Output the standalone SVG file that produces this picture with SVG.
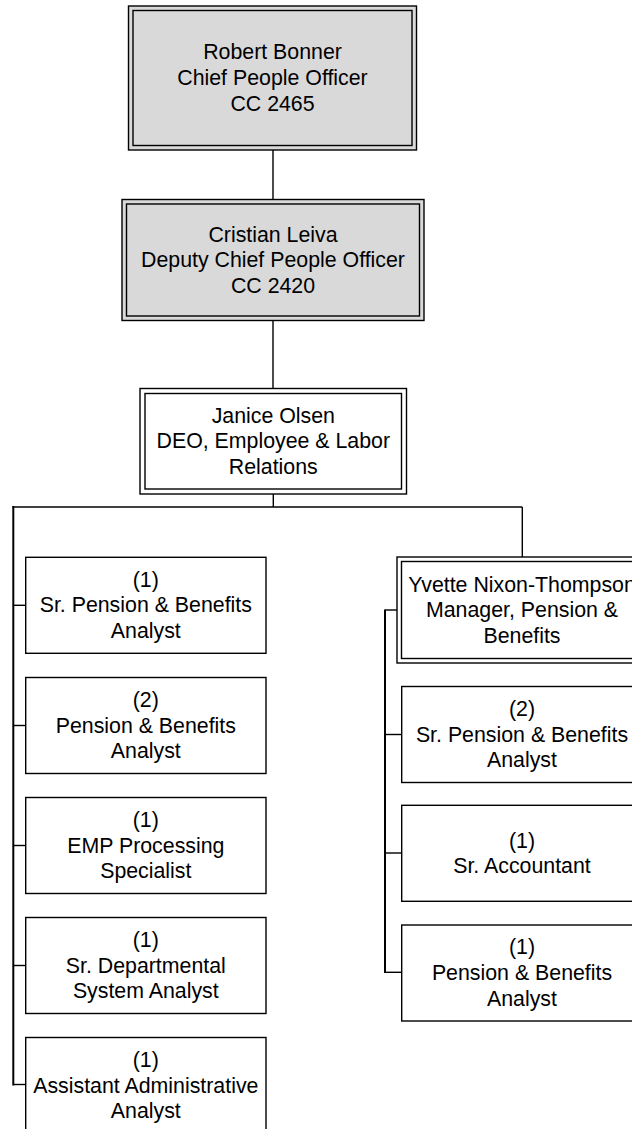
<svg xmlns="http://www.w3.org/2000/svg" width="632" height="1129" viewBox="0 0 632 1129">
<style>
.bg{fill:#ffffff}
.box{fill:#ffffff;stroke:#000;stroke-width:1.4}
.gray{fill:#d9d9d9;stroke:#000;stroke-width:1.4}
.ln{fill:none;stroke:#000;stroke-width:1.4}
.tr{fill:none;stroke:#000;stroke-width:2}
text{font-family:"Liberation Sans",Arial,sans-serif;font-size:21.33px;fill:#000;text-anchor:middle}
</style>
<rect class="bg" x="0" y="0" width="632" height="1129"/>
<g id="connectors">
<line class="ln" x1="273" y1="150" x2="273" y2="199.5"/>
<line class="ln" x1="273" y1="320.5" x2="273" y2="388.5"/>
<line class="ln" x1="273.3" y1="494" x2="273.3" y2="507"/>
<line class="ln" x1="12.5" y1="507" x2="522.3" y2="507"/>
<line class="ln" x1="522.3" y1="507" x2="522.3" y2="557"/>
<line class="tr" x1="13.3" y1="506" x2="13.3" y2="1085.5"/>
<line class="ln" x1="13.3" y1="605.3" x2="25.7" y2="605.3"/>
<line class="ln" x1="13.3" y1="725.5" x2="25.7" y2="725.5"/>
<line class="ln" x1="13.3" y1="845.5" x2="25.7" y2="845.5"/>
<line class="ln" x1="13.3" y1="965.5" x2="25.7" y2="965.5"/>
<line class="ln" x1="13.3" y1="1084.5" x2="25.7" y2="1084.5"/>
<line class="tr" x1="385" y1="609.5" x2="385" y2="973"/>
<line class="ln" x1="385" y1="610" x2="397" y2="610"/>
<line class="ln" x1="385" y1="734.5" x2="401.7" y2="734.5"/>
<line class="ln" x1="385" y1="853" x2="401.7" y2="853"/>
<line class="ln" x1="385" y1="972.3" x2="401.7" y2="972.3"/>
</g>
<g id="robert-bonner">
<rect class="gray" x="128.5" y="6" width="288" height="144"/>
<rect class="gray" x="133" y="10.5" width="279" height="135"/>
<text x="272.5" y="59.4">Robert Bonner</text>
<text x="272.5" y="85">Chief People Officer</text>
<text x="272.5" y="110.6">CC 2465</text>
</g>
<g id="cristian-leiva">
<rect class="gray" x="122" y="199.5" width="302" height="121"/>
<rect class="gray" x="126.5" y="204" width="293" height="112"/>
<text x="273" y="241.5">Cristian Leiva</text>
<text x="273" y="267.1">Deputy Chief People Officer</text>
<text x="273" y="292.7">CC 2420</text>
</g>
<g id="janice-olsen">
<rect class="box" x="140" y="388.5" width="266.5" height="105.5"/>
<rect class="box" x="145" y="393.5" width="256.5" height="95.5"/>
<text x="273.3" y="422.8">Janice Olsen</text>
<text x="273.3" y="448.4">DEO, Employee &amp; Labor</text>
<text x="273.3" y="474">Relations</text>
</g>
<g id="left-1">
<rect class="box" x="25.7" y="557.3" width="240.3" height="96"/>
<text x="145.8" y="586.7">(1)</text>
<text x="145.8" y="612.3">Sr. Pension &amp; Benefits</text>
<text x="145.8" y="637.9">Analyst</text>
</g>
<g id="left-2">
<rect class="box" x="25.7" y="677.5" width="240.3" height="96"/>
<text x="145.8" y="706.9">(2)</text>
<text x="145.8" y="732.5">Pension &amp; Benefits</text>
<text x="145.8" y="758.1">Analyst</text>
</g>
<g id="left-3">
<rect class="box" x="25.7" y="797.5" width="240.3" height="96"/>
<text x="145.8" y="826.9">(1)</text>
<text x="145.8" y="852.5">EMP Processing</text>
<text x="145.8" y="878.1">Specialist</text>
</g>
<g id="left-4">
<rect class="box" x="25.7" y="917.5" width="240.3" height="96"/>
<text x="145.8" y="946.9">(1)</text>
<text x="145.8" y="972.5">Sr. Departmental</text>
<text x="145.8" y="998.1">System Analyst</text>
</g>
<g id="left-5">
<rect class="box" x="25.7" y="1037.5" width="240.3" height="96"/>
<text x="145.8" y="1066.9">(1)</text>
<text x="145.8" y="1092.5">Assistant Administrative</text>
<text x="145.8" y="1118.1">Analyst</text>
</g>
<g id="yvette-nixon-thompson">
<rect class="box" x="397" y="557" width="250" height="106"/>
<rect class="box" x="401.5" y="561.5" width="241" height="97"/>
<text x="522" y="591.6">Yvette Nixon-Thompson</text>
<text x="522" y="617.2">Manager, Pension &amp;</text>
<text x="522" y="642.8">Benefits</text>
</g>
<g id="right-1">
<rect class="box" x="401.7" y="686.5" width="240.6" height="96"/>
<text x="522" y="715.9">(2)</text>
<text x="522" y="741.5">Sr. Pension &amp; Benefits</text>
<text x="522" y="767.1">Analyst</text>
</g>
<g id="right-2">
<rect class="box" x="401.7" y="805.3" width="240.6" height="96"/>
<text x="522" y="847.5">(1)</text>
<text x="522" y="873.1">Sr. Accountant</text>
</g>
<g id="right-3">
<rect class="box" x="401.7" y="925" width="240.6" height="96"/>
<text x="522" y="954.4">(1)</text>
<text x="522" y="980">Pension &amp; Benefits</text>
<text x="522" y="1005.6">Analyst</text>
</g>
</svg>
